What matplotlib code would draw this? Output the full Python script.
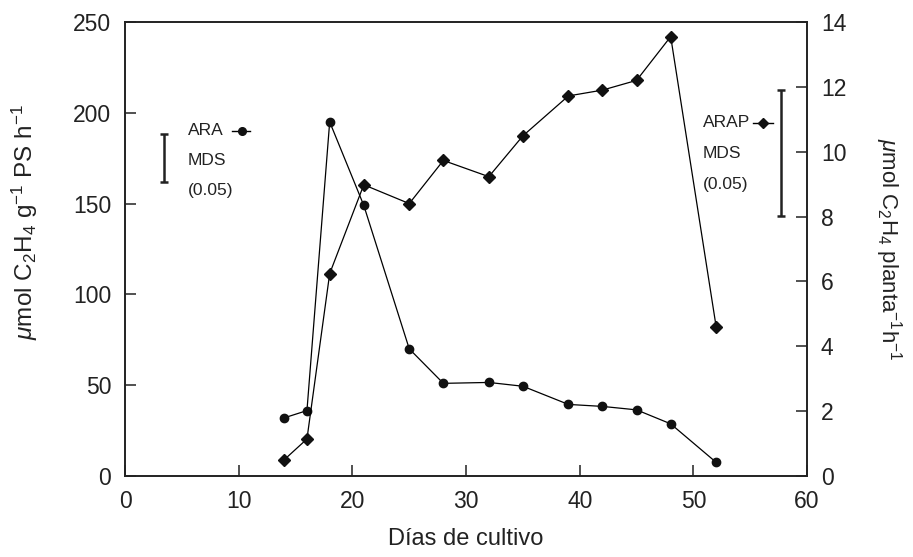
import matplotlib
matplotlib.use("Agg")
import matplotlib.pyplot as plt

plt.rcParams['font.family'] = ['Liberation Sans', 'DejaVu Sans']
plt.rcParams['mathtext.fontset'] = 'custom'
plt.rcParams['mathtext.rm'] = 'Liberation Sans'
plt.rcParams['mathtext.it'] = 'Liberation Sans:italic'
plt.rcParams['mathtext.bf'] = 'Liberation Sans:bold'

# Days of culture and measured activities
dias_ara = [14, 16, 18, 21, 25, 28, 32, 35, 39, 42, 45, 48, 52]
ara = [32, 36, 195, 149, 70, 51, 51.5, 49.4, 39.4, 38.3, 36.4, 28.7, 7.5]

dias_arap = [14, 16, 18, 21, 25, 28, 32, 35, 39, 42, 45, 48, 52]
arap = [0.5, 1.14, 6.24, 8.98, 8.40, 9.73, 9.23, 10.49, 11.72, 11.9, 12.2, 13.55, 4.6]

# Least significant differences (P = 0.05)
mds_ara = 26.5
mds_arap = 3.87

xticks = [0, 10, 20, 30, 40, 50, 60]
yticks_left = [0, 50, 100, 150, 200, 250]
yticks_right = [0, 2, 4, 6, 8, 10, 12, 14]

ink = '#222222'

fig = plt.figure(figsize=(9.13, 5.57), dpi=100)
ax = fig.add_axes([0.137, 0.1455, 0.747, 0.815])
ax2 = ax.twinx()

ax.plot(dias_ara, ara, color='black', lw=0.9, marker='o', ms=6,
        markerfacecolor='#111111', markeredgecolor='#111111')
ax2.plot(dias_arap, arap, color='black', lw=0.9, marker='D', ms=5.8,
         markerfacecolor='#111111', markeredgecolor='#111111')

ax.set_xlim(0, 60)
ax.set_ylim(0, 250)
ax2.set_ylim(0, 14)
ax.set_xticks(xticks)
ax.set_yticks(yticks_left)
ax2.set_yticks(yticks_right)

for a in (ax, ax2):
    for s in a.spines.values():
        s.set_linewidth(1.2)
        s.set_color(ink)
ax.tick_params(axis='both', direction='in', length=8, width=1.1,
               labelsize=16.5, colors=ink, pad=10, top=False, right=False)
ax2.tick_params(axis='y', direction='in', length=8, width=1.1,
                labelsize=16.5, colors=ink, pad=10)

ax.set_xlabel('Días de cultivo', fontsize=17, color=ink, labelpad=11)
ax.set_ylabel(r'$\mathit{\mu}$mol C$_2$H$_4$ g$^{\mathregular{-1}}$ PS h$^{\mathregular{-1}}$',
              fontsize=17.5, color=ink)
ax2.set_ylabel(r'$\mathit{\mu}$mol C$_2$H$_4$ planta$^{\mathregular{-1}}$h$^{\mathregular{-1}}$',
               fontsize=16, color=ink, rotation=270)
ax.yaxis.set_label_coords(-0.125, 0.56)
ax2.yaxis.set_label_coords(1.142, 0.5)

# ARA key and its MDS bar
ax.errorbar([3.4], [175.2], yerr=[mds_ara / 2], color=ink, lw=1.8,
            capsize=3, capthick=1.8, fmt='none')
ax.text(5.5, 190, 'ARA', fontsize=12.5, va='center', ha='left', color=ink)
ax.plot([9.4, 11.0], [190, 190], color='black', lw=1.0)
ax.plot([10.3], [190], marker='o', ms=5.5, color='#111111')
ax.text(5.5, 174, 'MDS', fontsize=12.5, va='center', ha='left', color=ink)
ax.text(5.5, 157, '(0.05)', fontsize=12.5, va='center', ha='left', color=ink)

# ARAP key and its MDS bar
ax2.errorbar([57.7], [9.965], yerr=[mds_arap / 2], color=ink, lw=1.8,
             capsize=3, capthick=1.8, fmt='none')
ax2.text(50.8, 10.9, 'ARAP', fontsize=12.5, va='center', ha='left', color=ink)
ax2.plot([55.2, 57.0], [10.9, 10.9], color='black', lw=1.0)
ax2.plot([56.1], [10.9], marker='D', ms=5, color='#111111')
ax2.text(50.8, 9.93, 'MDS', fontsize=12.5, va='center', ha='left', color=ink)
ax2.text(50.8, 8.98, '(0.05)', fontsize=12.5, va='center', ha='left', color=ink)

fig.savefig('out.png', dpi=100)
